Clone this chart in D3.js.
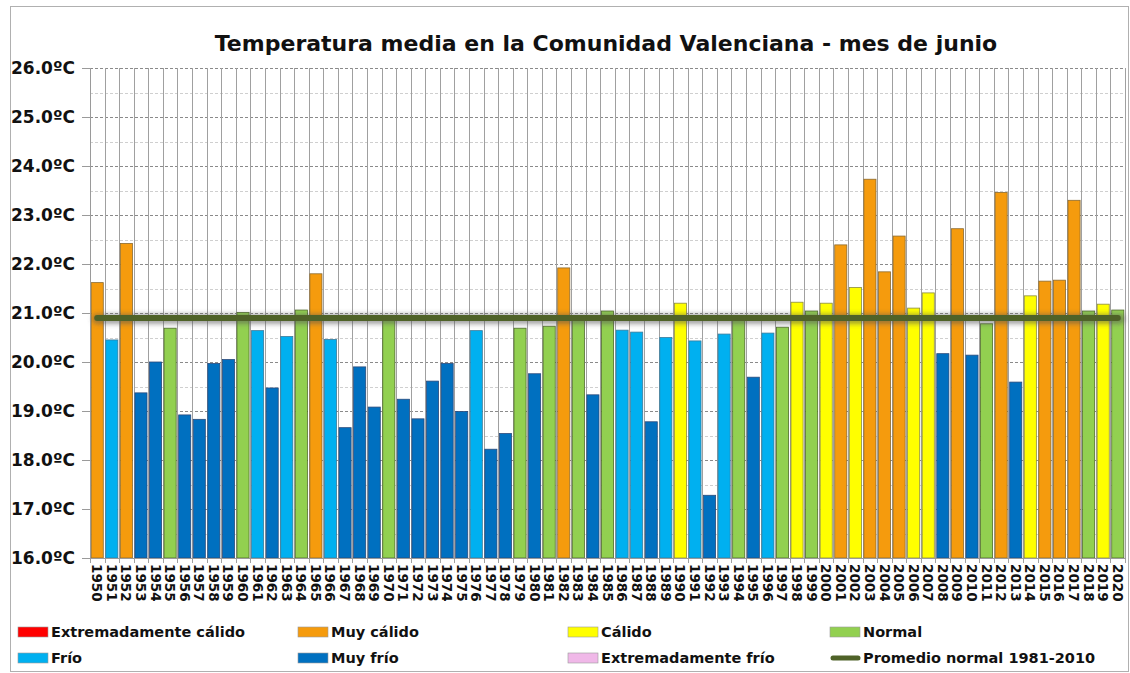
<!DOCTYPE html>
<html><head><meta charset="utf-8">
<script src="https://cdn.jsdelivr.net/npm/d3@7"></script>
<style>html,body{margin:0;padding:0;background:#fff;}svg{display:block;}</style>
</head><body>
<svg id="c" width="1130" height="673"></svg>
<script>
const years = d3.range(1950, 2021).map(String);
const values = [21.62,20.45,22.42,19.37,20.00,20.69,18.92,18.83,19.97,20.05,
21.01,20.64,19.47,20.52,21.06,21.80,20.46,18.66,19.90,19.08,
20.88,19.24,18.84,19.61,19.97,18.99,20.64,18.22,18.54,20.69,
19.76,20.73,21.92,20.88,19.33,21.04,20.65,20.61,18.78,20.50,
21.20,20.43,17.28,20.57,20.88,19.69,20.59,20.71,21.22,21.04,
21.20,22.39,21.52,23.73,21.84,22.57,21.10,21.41,20.17,22.72,
20.14,20.78,23.46,19.59,21.35,21.65,21.67,23.30,21.04,21.18,21.06];
const classes = ["MC","F","MC","MF","MF","N","MF","MF","MF","MF",
"N","F","MF","F","N","MC","F","MF","MF","MF",
"N","MF","MF","MF","MF","MF","F","MF","MF","N",
"MF","N","MC","N","MF","N","F","F","MF","F",
"C","F","MF","F","N","MF","F","N","C","N",
"C","MC","C","MC","MC","MC","C","C","MF","MC",
"MF","N","MC","MF","C","MC","MC","MC","N","C","N"];
const normalValue = 20.9;
const yTicks = [16,17,18,19,20,21,22,23,24,25,26];
const legendKeys = ["EC","MC","C","N","F","MF","EF","AVG"];
const legendLabels = ["Extremadamente cálido","Muy cálido","Cálido","Normal","Frío","Muy frío","Extremadamente frío","Promedio normal 1981-2010"];
const title = "Temperatura media en la Comunidad Valenciana - mes de junio";

const colors = {EC:"#ff0000",MC:"#f59b0d",C:"#ffff00",N:"#92d050",F:"#00b0f0",MF:"#0070c0",EF:"#f0b8e8",AVG:"#4f6228"};
const strokes = {EC:"#8a2a2a",MC:"#8a6a30",C:"#8a8a40",N:"#4f6a2a",F:"#3a7a9a",MF:"#2a4a7a",EF:"#9a7a9a"};

const svg = d3.select("#c");
const pL = 90, pR = 1125, pT = 68, pB = 558;
const x = d3.scaleBand().domain(years).range([pL, pR]).paddingInner(0.17).paddingOuter(0.08);
const y = d3.scaleLinear().domain([16, 26]).range([pB, pT]);

// frame
svg.append("rect").attr("x",10.5).attr("y",6.5).attr("width",1118).attr("height",665)
  .attr("fill","none").attr("stroke","#b0b0b0").attr("stroke-width",1);

// title
svg.append("text").attr("x",606).attr("y",51).attr("text-anchor","middle")
  .style("font-family","'DejaVu Sans'").style("font-weight","bold").style("font-size","22px")
  .attr("fill","#111").text(title);

// horizontal grid (minor half degrees)
const halfTicks = d3.range(16.5, 26, 1);
svg.append("g").selectAll("line").data(halfTicks).join("line")
  .attr("x1",pL).attr("x2",pR).attr("y1",d=>Math.round(y(d))+0.5).attr("y2",d=>Math.round(y(d))+0.5)
  .attr("stroke","#cfcfcf").attr("stroke-dasharray","3,2");
svg.append("g").selectAll("line").data(yTicks.slice(1)).join("line")
  .attr("x1",pL).attr("x2",pR).attr("y1",d=>Math.round(y(d))+0.5).attr("y2",d=>Math.round(y(d))+0.5)
  .attr("stroke","#8a8a8a").attr("stroke-dasharray","3,2");

// vertical grid lines at category boundaries
const bounds = d3.range(0, years.length + 1).map(i => pL + i * (pR - pL) / years.length);
svg.append("g").selectAll("line").data(bounds).join("line")
  .attr("x1",d=>Math.round(d)+0.5).attr("x2",d=>Math.round(d)+0.5).attr("y1",pT).attr("y2",pB+5)
  .attr("stroke","#a0a0a0").attr("stroke-width",1);

// bars
svg.append("g").selectAll("rect").data(years).join("rect")
  .attr("x",d=>x(d)).attr("width",x.bandwidth())
  .attr("y",(d,i)=>y(values[i])).attr("height",(d,i)=>y(16)-y(values[i]))
  .attr("fill",(d,i)=>colors[classes[i]]).attr("stroke",(d,i)=>strokes[classes[i]]).attr("stroke-width",0.8);

// average line with shadow
const defs = svg.append("defs");
defs.append("filter").attr("id","blur").attr("filterUnits","userSpaceOnUse")
  .attr("x",0).attr("y",0).attr("width",1130).attr("height",673)
  .append("feGaussianBlur").attr("stdDeviation",2.5);
const x1 = x(years[0]) + x.bandwidth()/2, x2 = x(years[years.length-1]) + x.bandwidth()/2;
svg.append("line").attr("x1",x1).attr("x2",x2+2)
  .attr("y1",y(normalValue)+1).attr("y2",y(normalValue)+1)
  .attr("stroke","#555").attr("stroke-opacity",0.55).attr("stroke-width",10)
  .attr("stroke-linecap","round").attr("filter","url(#blur)");
svg.append("line")
  .attr("x1",x1).attr("x2",x2)
  .attr("y1",y(normalValue)).attr("y2",y(normalValue))
  .attr("stroke",colors.AVG).attr("stroke-width",6).attr("stroke-linecap","round");

// y axis
const yAxis = d3.axisLeft(y).tickValues(yTicks).tickSize(8).tickFormat(d=>d3.format(".1f")(d)+"ºC");
const gy = svg.append("g").attr("transform",`translate(${pL},0)`).call(yAxis);
gy.select(".domain").attr("stroke","#9a9a9a");
gy.selectAll(".tick line").attr("stroke","#9a9a9a");
gy.selectAll(".tick text").attr("x",-15).attr("fill","#111")
  .style("font-family","'DejaVu Sans'").style("font-weight","bold").style("font-size","17px");

// x axis
const xAxis = d3.axisBottom(x).tickSize(0);
const gx = svg.append("g").attr("transform",`translate(0,${pB})`).call(xAxis);
gx.select(".domain").attr("stroke","#9a9a9a");
gx.selectAll(".tick text").attr("transform","rotate(90)").attr("x",6).attr("y",0).attr("dy","0.37em")
  .attr("text-anchor","start").attr("fill","#111")
  .style("font-family","'DejaVu Sans'").style("font-weight","bold").style("font-size","13.5px");

// legend
const colX = [18, 298, 568, 830];
const rowY = [632, 658];
const lg = svg.append("g");
legendKeys.forEach((k, i) => {
  const cx = colX[i % 4], cy = rowY[Math.floor(i / 4)];
  if (k === "AVG") {
    lg.append("line").attr("x1",cx+3).attr("x2",cx+28).attr("y1",cy).attr("y2",cy)
      .attr("stroke",colors.AVG).attr("stroke-width",5).attr("stroke-linecap","round");
  } else {
    lg.append("rect").attr("x",cx).attr("y",cy-5).attr("width",30).attr("height",10)
      .attr("fill",colors[k]).attr("stroke","#999").attr("stroke-width",0.6);
  }
  lg.append("text").attr("x",cx+33).attr("y",cy).attr("dy","0.36em")
    .style("font-family","'DejaVu Sans'").style("font-weight","bold").style("font-size","14.5px")
    .attr("fill","#111").text(legendLabels[i]);
});
</script>
</body></html>
